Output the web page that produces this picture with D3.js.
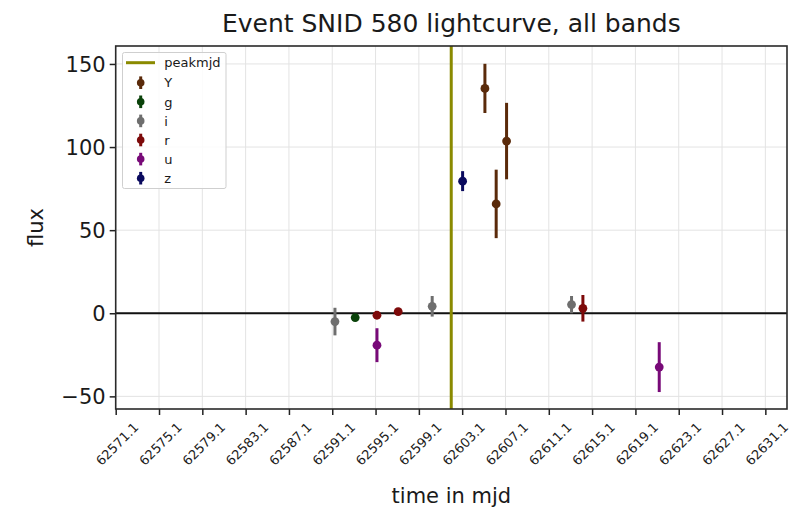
<!DOCTYPE html>
<meta charset="utf-8">
<style>
body { margin: 0; background: #fff; }
text { font-family: "DejaVu Sans", sans-serif; fill: #1a1a1a; }
.grid line { stroke: #e3e3e3; stroke-width: 1; }
</style>
<svg width="790" height="509"></svg>
<script src="https://d3js.org/d3.v7.min.js"></script>
<script>
// band observations: mjd, flux, flux error
var bands = ["Y", "g", "i", "r", "u", "z"];
var bandColors = ["#5a2a0a", "#0a420a", "#6e6e6e", "#7d0a0a", "#780a78", "#0a0a5e"];
var obsBand = ["i", "g", "r", "u", "r", "i", "z", "Y", "Y", "Y", "i", "r", "u"];
var obsMjd  = [62591.35, 62593.22, 62595.23, 62595.23, 62597.19, 62600.33, 62603.14, 62605.2, 62606.24, 62607.2, 62613.2, 62614.25, 62621.3];
var obsFlux = [-5, -2.6, -1.2, -19.2, 1.0, 4.2, 79.5, 135.3, 65.8, 103.6, 5.2, 3.0, -32.4];
var obsErr  = [8.3, 1.0, 1.0, 10.2, 1.0, 6.2, 6, 14.8, 20.6, 23, 5.2, 8, 15];
var peakMjd = 62602.09;
var xTicks = d3.range(62571.1, 62632, 4);
var yTicks = [-50, 0, 50, 100, 150];

var svg = d3.select("svg");
var mLeft = 115.7, mRight = 787, mTop = 46, mBottom = 409;

var x = d3.scaleLinear().domain([62571.1, 62633.1]).range([mLeft, mRight]);
var y = d3.scaleLinear().domain([-57.6, 160.8]).range([mBottom, mTop]);
var color = d3.scaleOrdinal().domain(bands).range(bandColors);

// grid
var grid = svg.append("g").attr("class", "grid");
grid.selectAll(".gx").data(xTicks).enter().append("line")
    .attr("x1", function(d) { return x(d); }).attr("x2", function(d) { return x(d); })
    .attr("y1", mTop).attr("y2", mBottom);
grid.selectAll(".gy").data(yTicks).enter().append("line")
    .attr("y1", function(d) { return y(d); }).attr("y2", function(d) { return y(d); })
    .attr("x1", mLeft).attr("x2", mRight);

// zero line and peak line
svg.append("line").attr("x1", mLeft).attr("x2", mRight)
    .attr("y1", y(0)).attr("y2", y(0))
    .attr("stroke", "#111").attr("stroke-width", 2);
svg.append("line").attr("x1", x(peakMjd)).attr("x2", x(peakMjd))
    .attr("y1", mTop).attr("y2", mBottom)
    .attr("stroke", "#8a8a00").attr("stroke-width", 3);

// error bars
var obs = obsMjd.map(function(m, i) {
  return { mjd: m, flux: obsFlux[i], err: obsErr[i], band: obsBand[i] };
});
var pts = svg.append("g").selectAll("g").data(obs).enter().append("g");
pts.append("line")
    .attr("x1", function(d) { return x(d.mjd); }).attr("x2", function(d) { return x(d.mjd); })
    .attr("y1", function(d) { return y(d.flux - d.err); })
    .attr("y2", function(d) { return y(d.flux + d.err); })
    .attr("stroke", function(d) { return color(d.band); })
    .attr("stroke-width", 3);
pts.append("circle")
    .attr("cx", function(d) { return x(d.mjd); })
    .attr("cy", function(d) { return y(d.flux); })
    .attr("r", 4.4)
    .attr("fill", function(d) { return color(d.band); });

// axes
var xAxis = svg.append("g").attr("transform", "translate(0," + mBottom + ")")
    .call(d3.axisBottom(x).tickValues(xTicks).tickFormat(d3.format(".1f")).tickSizeOuter(0).tickSize(6));
xAxis.select(".domain").remove();
xAxis.selectAll("line").attr("stroke", "#222").attr("stroke-width", 1.5);
xAxis.selectAll("text")
    .attr("font-size", 13)
    .attr("text-anchor", "middle")
    .attr("dy", "0.35em")
    .attr("transform", "translate(1,35) rotate(-45)")
    .attr("y", 0).attr("x", 0);

var yAxis = svg.append("g").attr("transform", "translate(" + mLeft + ",0)")
    .call(d3.axisLeft(y).tickValues(yTicks).tickFormat(function(d) { return d < 0 ? "\u2212" + (-d) : d; }).tickSize(6));
yAxis.select(".domain").remove();
yAxis.selectAll("line").attr("stroke", "#222").attr("stroke-width", 1.5);
yAxis.selectAll("text").attr("font-size", 21).attr("x", -10).attr("dy", "0.36em");

// frame
svg.append("rect").attr("x", mLeft).attr("y", mTop)
    .attr("width", mRight - mLeft).attr("height", mBottom - mTop)
    .attr("fill", "none").attr("stroke", "#2a2a2a").attr("stroke-width", 1.6);

// legend
var lg = svg.append("g").attr("transform", "translate(122.5,52.5)");
lg.append("rect").attr("width", 103.5).attr("height", 136).attr("rx", 2)
    .attr("fill", "#fff").attr("fill-opacity", 0.85).attr("stroke", "#cfcfcf");
lg.append("line").attr("x1", 3.5).attr("x2", 32.5).attr("y1", 10.2).attr("y2", 10.2)
    .attr("stroke", "#8a8a00").attr("stroke-width", 3);
lg.append("text").attr("x", 41.8).attr("y", 14.6).attr("font-size", 13).text("peakmjd");
var items = lg.selectAll(".item").data(bands).enter().append("g")
    .attr("transform", function(d, i) { return "translate(18.2," + (30.2 + i * 19.1) + ")"; });
items.append("line").attr("y1", -6.3).attr("y2", 6.3)
    .attr("stroke", function(d) { return color(d); }).attr("stroke-width", 3);
items.append("circle").attr("r", 3.8).attr("fill", function(d) { return color(d); });
items.append("text").attr("x", 23.6).attr("y", 4.7).attr("font-size", 13).text(function(d) { return d; });

// labels
svg.append("text").attr("x", (mLeft + mRight) / 2).attr("y", 31.5)
    .attr("text-anchor", "middle").attr("font-size", 25)
    .text("Event SNID 580 lightcurve, all bands");
svg.append("text").attr("x", (mLeft + mRight) / 2).attr("y", 503)
    .attr("text-anchor", "middle").attr("font-size", 21).text("time in mjd");
svg.append("text").attr("transform", "translate(43," + ((mTop + mBottom) / 2) + ") rotate(-90)")
    .attr("text-anchor", "middle").attr("font-size", 21).text("flux");
</script>
